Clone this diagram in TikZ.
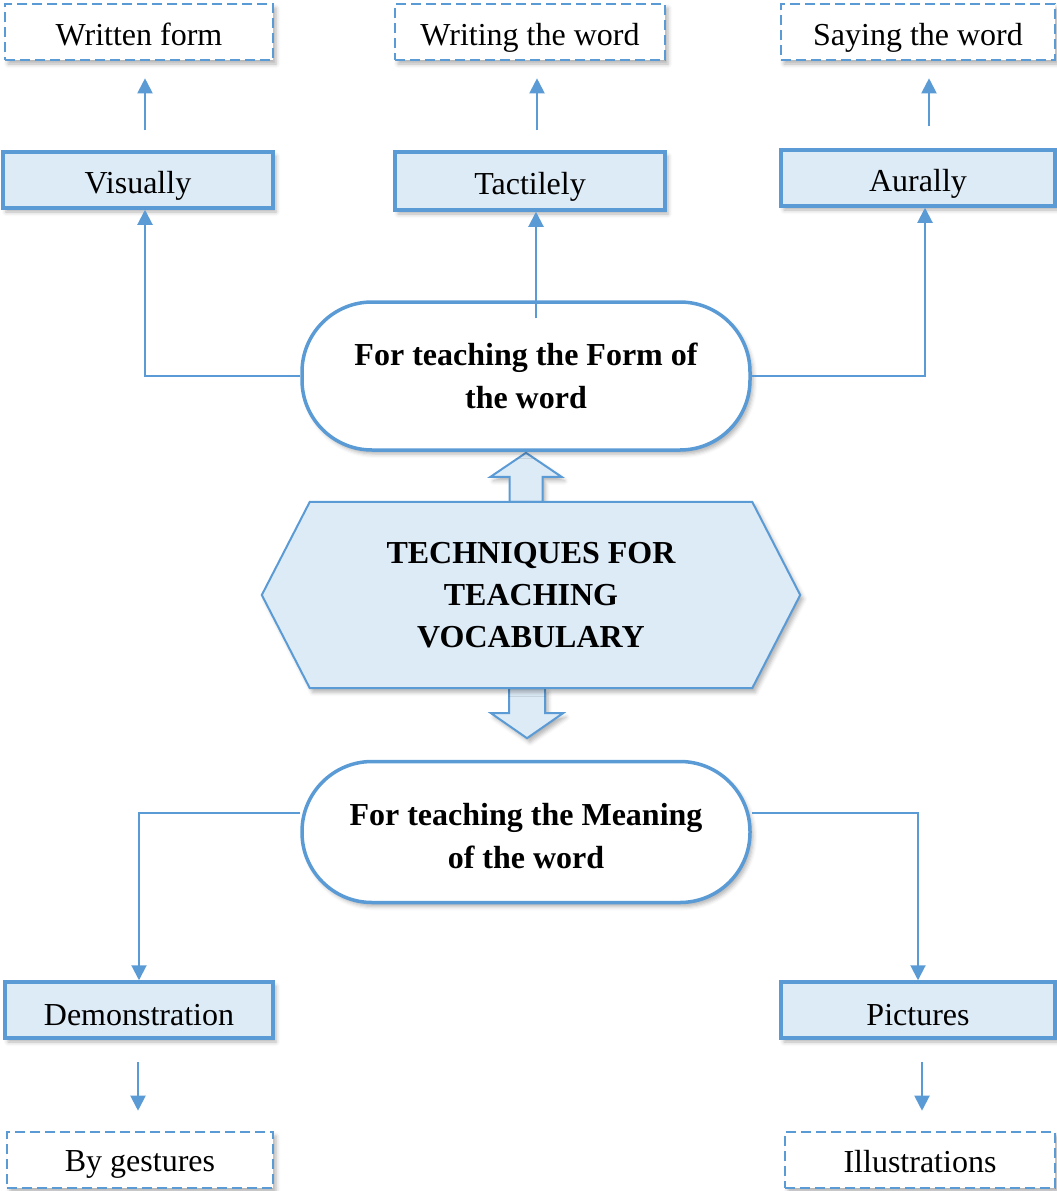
\documentclass[tikz,border=0pt]{standalone}
\usepackage{fontspec}
\setmainfont{Liberation Serif}
\usetikzlibrary{arrows.meta,shadows.blur,backgrounds}
\definecolor{edgeblue}{HTML}{5B9BD5}
\definecolor{paleblue}{HTML}{DDEBF7}

\begin{document}
\begin{tikzpicture}[x=1pt,y=-1pt,
  every node/.style={font=\fontsize{32}{42}\selectfont, inner sep=0pt},
  softshadow/.style={blur shadow={shadow xshift=3pt,shadow yshift=-4pt,shadow blur radius=4pt,shadow opacity=30}},
  lowtext/.style={text height=#1, text depth=0pt},
  lowtext/.default=26pt,
  solidbox/.style={draw=edgeblue, line width=3.5pt, fill=paleblue, softshadow, minimum height=56pt, lowtext},
  dashbox/.style={draw=edgeblue, line width=2.6pt, dash pattern=on 10pt off 5pt, fill=white, softshadow, minimum height=56pt, lowtext},
  pill/.style={draw=edgeblue, line width=3.5pt, fill=white, rounded corners=70pt, softshadow,
    minimum width=448pt, align=center, font=\fontsize{32}{43}\selectfont\bfseries},
  conn/.style={draw=edgeblue, line width=2pt},
  arrowline/.style={conn, -{Triangle[width=15pt,length=15pt]}},
  blockarrow/.style={draw=edgeblue, line width=2pt, fill=paleblue, softshadow}
]
\useasboundingbox (0,0) rectangle (1057,1191);

% top row: outcomes
\node[dashbox, minimum width=268pt] (written) at (139,32) {Written form};
\node[dashbox, minimum width=270pt] (writing) at (530,32) {Writing the word};
\node[dashbox, minimum width=274pt] (saying)  at (918,32) {Saying the word};

% second row: channels
\node[solidbox, minimum width=270pt] (vis)  at (138,180) {Visually};
\node[solidbox, minimum width=270pt, minimum height=58pt] (tact) at (530,181) {Tactilely};
\node[solidbox, minimum width=274pt] (aur)  at (918,178) {Aurally};

% form / meaning branches
\node[pill, minimum height=148pt] (form) at (526,376) {For teaching the Form of\\the word};
\node[pill, minimum height=141pt, minimum width=448pt] (mean) at (526,832)
  {\raisebox{-13pt}[0pt][0pt]{\begin{tabular}{@{}c@{}}For teaching the Meaning\\of the word\end{tabular}}};

% central hexagon label
\node[align=center, minimum width=538pt, minimum height=186pt, font=\fontsize{32}{42}\selectfont\bfseries]
  (hex) at (531,595) {TECHNIQUES FOR\\TEACHING\\VOCABULARY};

% bottom rows
\node[solidbox, minimum width=268pt, lowtext=30pt] (demo) at (139,1010) {Demonstration};
\node[solidbox, minimum width=274pt, lowtext=30pt] (pic)  at (918,1010) {Pictures};
\node[dashbox, minimum width=266pt, lowtext=22pt] (gest) at (140,1160) {By gestures};
\node[dashbox, minimum width=270pt, lowtext=24pt] (ill)  at (920,1160) {Illustrations};

\begin{scope}[on background layer]
  % block arrows between hexagon and the two branches
  \path[blockarrow] (form.south |- hex.north) ++(-16.5,0) -- ++(0,-25) -- ++(-19,0)
    -- ++(35.5,-24) -- ++(35.5,24) -- ++(-19,0) -- ++(0,25) -- cycle;
  \path[blockarrow] (mean.north |- hex.south) ++(-17,0) -- ++(0,25) -- ++(-18,0)
    -- ++(36,25) -- ++(36,-25) -- ++(-18,0) -- ++(0,-25) -- cycle;
  % hexagon outline
  \path[blockarrow] ([xshift=48pt]hex.north west) -- ([xshift=-48pt]hex.north east)
    -- (hex.east) -- ([xshift=-48pt]hex.south east)
    -- ([xshift=48pt]hex.south west) -- (hex.west) -- cycle;
\end{scope}

% connectors from the form branch
\draw[arrowline] (form.west) -| ([xshift=7pt]vis.south);
\draw[arrowline] ([xshift=10pt,yshift=-18pt]form.north) -- ([xshift=6pt]tact.south);
\draw[arrowline] (form.east) -| ([xshift=7pt]aur.south);

% channel to outcome arrows
\draw[arrowline] ([xshift=7pt,yshift=20pt]vis.north) -- ([xshift=6pt,yshift=-17pt]written.south);
\draw[arrowline] ([xshift=7pt,yshift=20pt]tact.north) -- ([xshift=7pt,yshift=-17pt]writing.south);
\draw[arrowline] ([xshift=11pt,yshift=22pt]aur.north) -- ([xshift=11pt,yshift=-17pt]saying.south);

% connectors from the meaning branch
\draw[arrowline] ([yshift=19pt]mean.west) -| (demo.north);
\draw[arrowline] ([yshift=19pt]mean.east) -| (pic.north);
\draw[arrowline] ([xshift=-1pt,yshift=-22pt]demo.south) -- ([xshift=-2pt,yshift=20pt]gest.north);
\draw[arrowline] ([xshift=4pt,yshift=-22pt]pic.south) -- ([xshift=2pt,yshift=20pt]ill.north);
\end{tikzpicture}
\end{document}
